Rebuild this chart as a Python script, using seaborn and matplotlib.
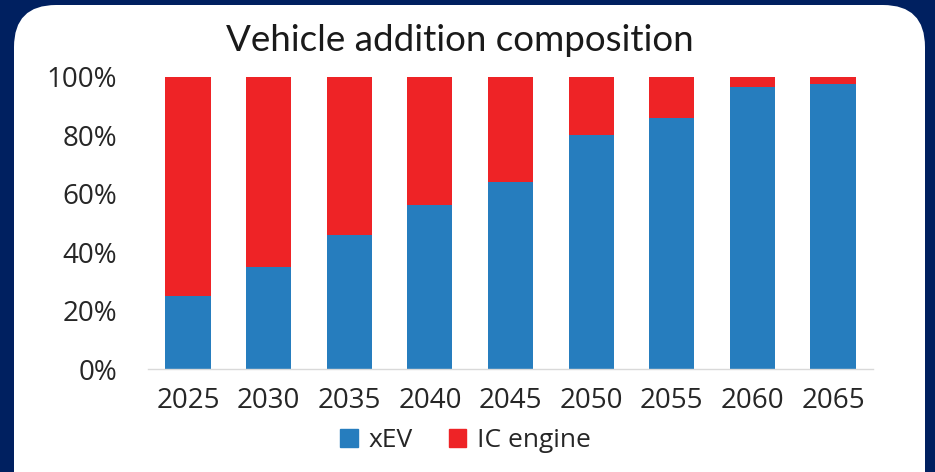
import matplotlib
matplotlib.use('Agg')
import matplotlib.pyplot as plt
import seaborn as sns
from matplotlib.patches import FancyBboxPatch, Patch
from matplotlib.transforms import IdentityTransform
from matplotlib.ticker import PercentFormatter

# data (share of additions, %)
years = ['2025', '2030', '2035', '2040', '2045', '2050', '2055', '2060', '2065']
xev = [25, 35, 46, 56, 64, 80, 86, 96.5, 97.5]
ic_engine = [100 - v for v in xev]
total = [a + b for a, b in zip(xev, ic_engine)]

blue = '#267DBE'
red = '#EE2326'
navy = '#002060'

sns.set_style('white')
plt.rcParams['font.family'] = ['Open Sans', 'DejaVu Sans']

fig = plt.figure(figsize=(9.35, 4.72), dpi=100, facecolor=navy)
# white rounded panel behind everything
panel = FancyBboxPatch((14, -60), 911, 527, boxstyle='round,pad=0,rounding_size=42',
                       transform=IdentityTransform(), facecolor='white', edgecolor='none',
                       zorder=-10)
fig.patches.append(panel)

ax = fig.add_axes([0.158, 0.218, 0.776, 0.619])
ax.set_facecolor('none')

# stacked: draw full height in red, then xEV over it
sns.barplot(x=years, y=total, color=red, width=0.56, saturation=1, linewidth=0, ax=ax)
sns.barplot(x=years, y=xev, color=blue, width=0.56, saturation=1, linewidth=0, ax=ax)

ax.set_ylim(0, 100)
ax.set_xlim(-0.5, 8.5)
ax.set_yticks([0, 20, 40, 60, 80, 100])
ax.yaxis.set_major_formatter(PercentFormatter(decimals=0))
ax.tick_params(axis='both', length=0, labelsize=20, colors='#262626')
ax.tick_params(axis='y', pad=22)
ax.tick_params(axis='x', pad=13)
for s in ['top', 'right', 'left']:
    ax.spines[s].set_visible(False)
ax.spines['bottom'].set_color('#D9D9D9')
ax.spines['bottom'].set_linewidth(1)
ax.set_xlabel('')
ax.set_ylabel('')

fig.text(0.492, 0.915, 'Vehicle addition composition', ha='center', va='center',
         fontsize=26.5, color='#1a1a1a', family=['Lato', 'DejaVu Sans'])

handles = [Patch(color=blue, label='xEV'), Patch(color=red, label='IC engine')]
fig.legend(handles=handles, loc='center', bbox_to_anchor=(0.498, 0.066), ncol=2,
           frameon=False, fontsize=19, handlelength=0.65, handleheight=0.65,
           handletextpad=0.4, columnspacing=1.4)

fig.savefig('out.png', dpi=100, facecolor=navy)
